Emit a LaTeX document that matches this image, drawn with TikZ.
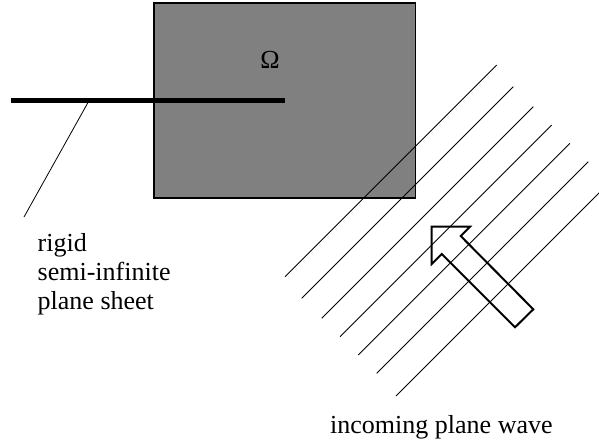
\documentclass[tikz,border=0pt]{standalone}
\usepackage{fontspec}
\setmainfont{Liberation Serif}
\begin{document}
\begin{tikzpicture}[x=1pt, y=-1pt,
    labeltext/.style={font=\fontsize{26}{29}\selectfont, inner sep=0pt},
    waveline/.style={line width=0.8pt}]
    % Khung hình: 599 x 447, trục y hướng xuống
    \useasboundingbox (0,0) rectangle (599,447);

    % Miền Omega (hình chữ nhật xám)
    \draw[line width=1.2pt, fill=black!50] (154,3) rectangle (415.7,198);
    \node[labeltext, anchor=base] (omega) at (270,68.5) {Ω};

    % Tấm phẳng nửa vô hạn
    \coordinate (S1) at (11,100.5);
    \coordinate (S2) at (285,100.5);
    \draw[line width=4.3pt] (S1) -- (S2);

    % Nhãn của tấm và đường chỉ
    \node[labeltext, align=left, anchor=north west] (sheetlabel)
        at (37.5,233) {rigid\\semi-infinite\\plane sheet};
    \coordinate (P) at (88,102.5);
    \coordinate (Q) at (24,217);
    \draw[waveline] (P) -- (Q);

    % Sóng phẳng tới: các đường song song nghiêng 45 độ
    % x + y = \c, x - y chạy từ \d đến \d + 423.3
    \begin{scope}
        \clip (0,0) rectangle (599,447);
        \foreach \c/\d in {561.7/8.3, 600/3.4, 640/3.4, 676.7/3.3, 713.3/3.3, 750/3.4, 792/0}
            \draw[waveline] ({(\c+\d)/2},{(\c-\d)/2}) -- ({(\c+\d+423.3)/2},{(\c-\d-423.3)/2});
    \end{scope}

    % Mũi tên rỗng chỉ hướng truyền sóng
    \draw[line width=2pt] (431.7,226.7) -- (470,226.7) -- (460.7,236) -- (533.3,309.3)
        -- (515,327.3) -- (441.7,254) -- (431.7,264) -- cycle;

    \node[labeltext, anchor=base west] (wavelabel) at (330,433) {incoming plane wave};
\end{tikzpicture}
\end{document}
